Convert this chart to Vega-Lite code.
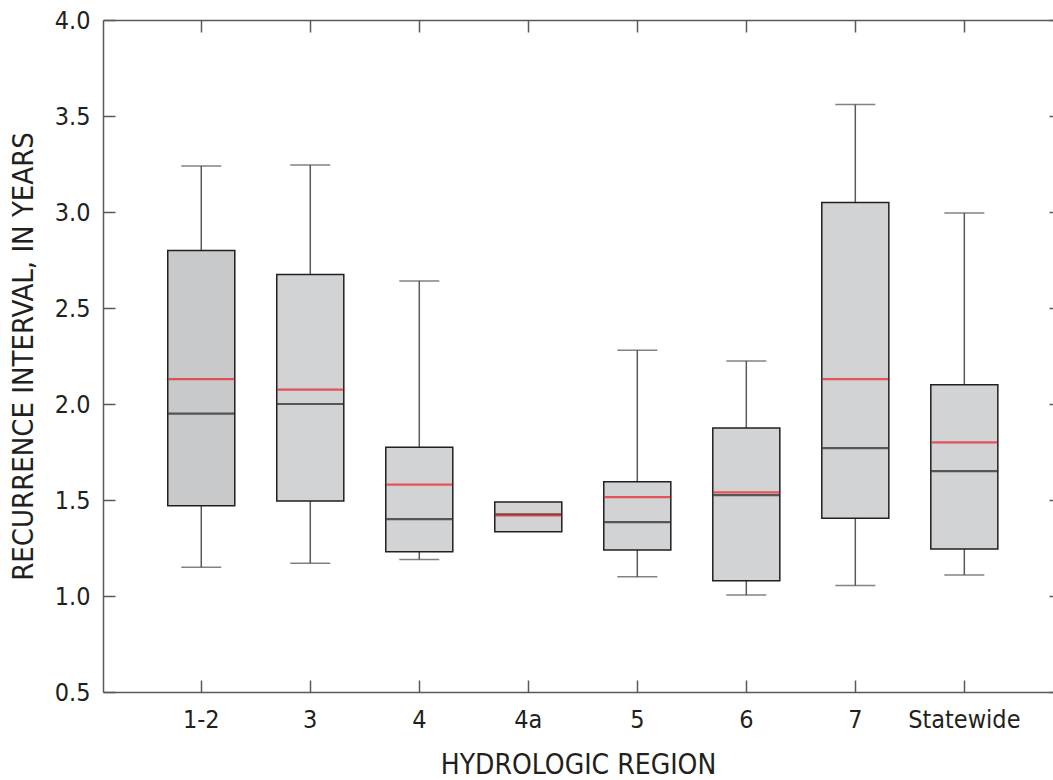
{
  "$schema": "https://vega.github.io/schema/vega-lite/v6.json",
  "width": 950,
  "height": 672,
  "autosize": {"type": "none"},
  "padding": {"left": 103, "top": 20, "right": 0, "bottom": 88},
  "background": "white",
  "config": {
    "view": {"stroke": null},
    "font": "DejaVu Sans Condensed",
    "axis": {
      "labelFont": "DejaVu Sans Condensed",
      "titleFont": "DejaVu Sans Condensed",
      "labelColor": "#231f20",
      "titleColor": "#231f20",
      "domainColor": "#58595b",
      "tickColor": "#58595b",
      "domainWidth": 1.5,
      "tickWidth": 1.5,
      "grid": false,
      "titleFontWeight": "normal"
    }
  },
  "data": {
    "values": [
      {"region": "1-2", "wlo": 1.15, "q1": 1.47, "median": 1.95, "mean": 2.13, "q3": 2.80, "whi": 3.24},
      {"region": "3", "wlo": 1.17, "q1": 1.495, "median": 2.00, "mean": 2.075, "q3": 2.675, "whi": 3.245},
      {"region": "4", "wlo": 1.19, "q1": 1.23, "median": 1.40, "mean": 1.58, "q3": 1.775, "whi": 2.64},
      {"region": "4a", "wlo": null, "q1": 1.335, "median": 1.425, "mean": 1.42, "q3": 1.49, "whi": null},
      {"region": "5", "wlo": 1.10, "q1": 1.24, "median": 1.385, "mean": 1.515, "q3": 1.595, "whi": 2.28},
      {"region": "6", "wlo": 1.005, "q1": 1.08, "median": 1.525, "mean": 1.54, "q3": 1.875, "whi": 2.224},
      {"region": "7", "wlo": 1.055, "q1": 1.405, "median": 1.77, "mean": 2.13, "q3": 3.05, "whi": 3.56},
      {"region": "Statewide", "wlo": 1.11, "q1": 1.245, "median": 1.65, "mean": 1.80, "q3": 2.10, "whi": 2.995}
    ]
  },
  "layer": [
    {
      "transform": [{"filter": "datum.wlo != null"}],
      "mark": {"type": "rule", "color": "#58595b", "strokeWidth": 1.5},
      "encoding": {
        "x": {
          "field": "region", "type": "nominal", "sort": null,
          "scale": {"domain": ["1-2", "3", "4", "4a", "5", "6", "7", "Statewide"], "paddingInner": 0.385, "paddingOuter": 0.55, "align": 0.54},
          "axis": {
            "orient": "bottom",
            "title": "HYDROLOGIC REGION",
            "titleFontSize": 28,
            "titlePadding": 19,
            "labelFontSize": 25,
            "labelAngle": 0,
            "labelPadding": 27,
            "tickSize": -12,
            "domain": true
          }
        },
        "y": {
          "field": "wlo", "type": "quantitative",
          "scale": {"domain": [0.5, 4.0], "nice": false, "zero": false},
          "axis": {
            "orient": "left",
            "title": "RECURRENCE INTERVAL, IN YEARS",
            "titleFontSize": 29,
            "titlePadding": 16,
            "labelFontSize": 25,
            "labelPadding": 25,
            "tickSize": -12,
            "values": [0.5, 1.0, 1.5, 2.0, 2.5, 3.0, 3.5, 4.0],
            "format": ".1f"
          }
        },
        "y2": {"field": "whi"}
      }
    },
    {
      "transform": [{"filter": "datum.wlo != null"}],
      "mark": {"type": "tick", "color": "#4d4d4f", "thickness": 1.5, "size": 40},
      "encoding": {
        "x": {
          "field": "region", "type": "nominal", "sort": null,
          "axis": {"orient": "top", "title": null, "labels": false, "tickSize": -12, "domain": true}
        },
        "y": {
          "field": "wlo", "type": "quantitative",
          "axis": {"orient": "right", "title": null, "labels": false, "tickSize": -4, "domain": false,
                   "values": [0.5, 1.0, 1.5, 2.0, 2.5, 3.0, 3.5, 4.0]}
        }
      }
    },
    {
      "transform": [{"filter": "datum.whi != null"}],
      "mark": {"type": "tick", "color": "#4d4d4f", "thickness": 1.5, "size": 40},
      "encoding": {
        "x": {"field": "region", "type": "nominal", "sort": null, "axis": null},
        "y": {"field": "whi", "type": "quantitative", "axis": null}
      }
    },
    {
      "mark": {"type": "bar", "stroke": "#231f20", "strokeWidth": 1.5},
      "encoding": {
        "x": {"field": "region", "type": "nominal", "sort": null, "axis": null},
        "y": {"field": "q1", "type": "quantitative", "axis": null},
        "y2": {"field": "q3"},
        "fill": {
          "condition": {"test": "datum.region === '1-2'", "value": "#c8c9cb"},
          "value": "#d1d3d4"
        }
      }
    },
    {
      "mark": {"type": "tick", "color": "#231f20", "thickness": 2.2, "size": 66},
      "encoding": {
        "x": {"field": "region", "type": "nominal", "sort": null, "axis": null},
        "y": {"field": "median", "type": "quantitative", "axis": null}
      }
    },
    {
      "mark": {"type": "tick", "color": "#ed1c24", "thickness": 2.2, "size": 66},
      "encoding": {
        "x": {"field": "region", "type": "nominal", "sort": null, "axis": null},
        "y": {"field": "mean", "type": "quantitative", "axis": null}
      }
    }
  ]
}
